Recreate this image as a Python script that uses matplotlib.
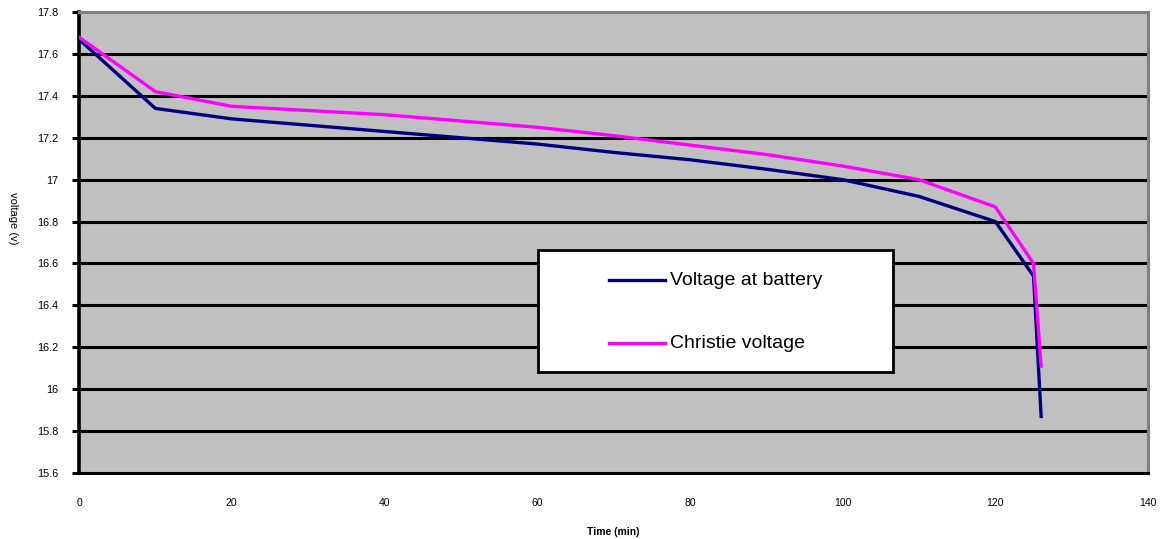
import matplotlib.pyplot as plt
from matplotlib.patches import Rectangle

# ---------------- DATA ----------------
time_min = [0, 10, 20, 30, 40, 50, 60, 70, 80, 90, 100, 110, 120, 125, 126]
v_battery = [17.67, 17.34, 17.29, 17.26, 17.23, 17.20, 17.17, 17.13, 17.095, 17.05, 17.0, 16.92, 16.80, 16.54, 15.87]
v_christie = [17.68, 17.42, 17.35, 17.33, 17.31, 17.28, 17.25, 17.21, 17.165, 17.12, 17.065, 17.0, 16.87, 16.60, 16.11]

series_names = ["Voltage at battery", "Christie voltage"]
series_colors = ['#000080', '#ff00ff']

x_ticks = [0, 20, 40, 60, 80, 100, 120, 140]
y_ticks = [15.6, 15.8, 16, 16.2, 16.4, 16.6, 16.8, 17, 17.2, 17.4, 17.6, 17.8]
y_tick_labels = ["15.6", "15.8", "16", "16.2", "16.4", "16.6", "16.8", "17", "17.2", "17.4", "17.6", "17.8"]

plt.rcParams['font.family'] = ['Liberation Sans', 'DejaVu Sans']

# ---------------- GRAPH ----------------
fig = plt.figure(figsize=(11.62, 5.39), dpi=100)
ax = fig.add_axes([0.068, 0.1224, 0.92, 0.8553])
ax.set_facecolor('#c0c0c0')

ax.set_xlim(0, 140)
ax.set_ylim(15.6, 17.8)

for y in y_ticks[1:-1]:
    ax.axhline(y, color='black', lw=2.2, zorder=1)

for vals, name, col in zip([v_battery, v_christie], series_names, series_colors):
    ax.plot(time_min, vals, color=col, lw=2.4, label=name, zorder=3)

ax.set_xticks(x_ticks)
ax.set_yticks(y_ticks)
ax.set_yticklabels(y_tick_labels)
ax.tick_params(axis='x', length=0, pad=18, labelsize=7.5)
ax.tick_params(axis='y', length=5, width=2.2, direction='out', pad=10, labelsize=7.8)

for side in ['top', 'right']:
    ax.spines[side].set_color('#808080')
    ax.spines[side].set_linewidth(2.2)
ax.spines['left'].set_linewidth(2.6)
ax.spines['bottom'].set_linewidth(2.2)

ax.set_xlabel("Time (min)", fontsize=7.5, fontweight='bold', labelpad=14)
fig.text(0.011, 0.595, "voltage (v)", rotation=-90, fontsize=8, ha='center', va='center')

# legend box drawn by hand (excel style)
ax.add_patch(Rectangle((0.4294, 0.219), 0.3321, 0.265, transform=ax.transAxes,
                       facecolor='white', edgecolor='black', lw=2, zorder=5))
row_y = [0.4187, 0.282]
for ry, name, col in zip(row_y, series_names, series_colors):
    ax.plot([0.4958, 0.5482], [ry, ry], color=col, lw=2.4, transform=ax.transAxes, zorder=6)
    ax.text(0.5529, ry, name, fontsize=14, va='center', ha='left', transform=ax.transAxes, zorder=6)

plt.savefig('out.png', dpi=100)
